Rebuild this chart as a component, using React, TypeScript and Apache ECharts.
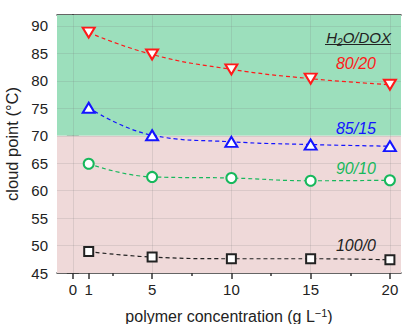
import React, { useEffect, useRef } from "react";
import * as echarts from "echarts";

const concentrations = [1, 5, 10, 15, 20];
const s8020 = [88.8, 84.8, 82.1, 80.4, 79.3];
const s8515 = [75.1, 70.1, 68.9, 68.4, 68.1];
const s9010 = [64.9, 62.5, 62.3, 61.8, 61.9];
const s1000 = [48.9, 47.9, 47.6, 47.6, 47.4];

const xMajorTicks = [0, 1, 5, 10, 15, 20];
const xTopTicks = [0, 5, 10, 15, 20];
const xMinorTicks = [2.5, 7.5, 12.5, 17.5];
const yMajorTicks = [45, 50, 55, 60, 65, 70, 75, 80, 85, 90];
const yMinorTicks = [47.5, 52.5, 57.5, 62.5, 67.5, 72.5, 77.5, 82.5, 87.5];
const X_MIN = -1;
const X_MAX = 20.7;
const Y_MIN = 45;
const Y_MAX = 92;
const BOUNDARY = 70;

const FONT = "Liberation Sans, Arial, sans-serif";
const AX = "#333333";

function mkSeries(name: string, vals: number[], color: string, symbol: string, size: any, rotate = 0) {
  return {
    name,
    type: "line",
    z: 5,
    data: concentrations.map((c, i) => [c, vals[i]]),
    smooth: 0.45,
    symbol,
    symbolSize: size,
    symbolRotate: rotate,
    showSymbol: true,
    itemStyle: { color: "#ffffff", borderColor: color, borderWidth: 2 },
    lineStyle: { color, width: 1.2, type: [4, 3] },
  };
}

export default function App() {
  const ref = useRef<HTMLDivElement>(null);
  useEffect(() => {
    document.body.style.margin = "0";
    document.body.style.overflow = "hidden";
    const chart = echarts.init(ref.current!, null, { renderer: "svg" });
    const tickAxisBase = {
      type: "value",
      min: X_MIN,
      max: X_MAX,
      splitLine: { show: false },
    };
    const yBase = {
      type: "value",
      min: Y_MIN,
      max: Y_MAX,
      splitLine: { show: false },
    };
    const label = (text: string, y: number, fill: string) => ({
      type: "text",
      z: 100,
      x: 376,
      y,
      style: { text, align: "right", verticalAlign: "middle", fontSize: 16, fontStyle: "italic", fill, fontFamily: FONT },
    });
    chart.setOption({
      animation: false,
      grid: { left: 57, right: 2, top: 15, bottom: 51, containLabel: false, outerBoundsMode: "none" },
      xAxis: [
        {
          ...tickAxisBase,
          position: "bottom",
          axisLine: { show: true, lineStyle: { color: AX, width: 1.5 } },
          axisTick: { show: true, customValues: xMajorTicks, length: 6, inside: false, lineStyle: { color: AX, width: 1.5 } },
          axisLabel: { customValues: xMajorTicks, fontSize: 15, color: "#222", margin: 9, fontFamily: FONT },
          name: "polymer concentration (g L{sup|−1})",
          nameLocation: "middle",
          nameGap: 34,
          nameTextStyle: {
            fontSize: 16,
            color: "#222",
            fontFamily: FONT,
            rich: { sup: { fontSize: 11, verticalAlign: "top", padding: [0, 0, 8, 0], color: "#222", fontFamily: FONT } },
          },
        },
        {
          ...tickAxisBase,
          position: "bottom",
          axisLine: { show: false },
          axisTick: { show: true, customValues: xMinorTicks, length: 3, inside: false, lineStyle: { color: AX, width: 1.5 } },
          axisLabel: { show: false },
        },
        {
          ...tickAxisBase,
          position: "top",
          axisLine: { show: true, lineStyle: { color: AX, width: 1.5 } },
          axisTick: { show: true, customValues: xTopTicks, length: 6, inside: true, lineStyle: { color: AX, width: 1.5 } },
          axisLabel: { show: false },
        },
        {
          ...tickAxisBase,
          position: "top",
          axisLine: { show: false },
          axisTick: { show: true, customValues: xMinorTicks, length: 3, inside: true, lineStyle: { color: AX, width: 1.5 } },
          axisLabel: { show: false },
        },
      ],
      yAxis: [
        {
          ...yBase,
          position: "left",
          axisLine: { show: true, lineStyle: { color: AX, width: 1.5 } },
          axisTick: { show: true, customValues: yMajorTicks, length: 6, inside: false, lineStyle: { color: AX, width: 1.5 } },
          axisLabel: { customValues: yMajorTicks, fontSize: 15, color: "#222", margin: 9, fontFamily: FONT },
          name: "cloud point (°C)",
          nameLocation: "middle",
          nameGap: 24,
          nameTextStyle: { fontSize: 16.5, color: "#222", fontFamily: FONT },
        },
        {
          ...yBase,
          position: "left",
          axisLine: { show: false },
          axisTick: { show: true, customValues: yMinorTicks, length: 3, inside: false, lineStyle: { color: AX, width: 1.5 } },
          axisLabel: { show: false },
        },
        {
          ...yBase,
          position: "right",
          axisLine: { show: true, lineStyle: { color: AX, width: 1.5 } },
          axisTick: { show: true, customValues: yMajorTicks, length: 6, inside: false, lineStyle: { color: AX, width: 1.5 } },
          axisLabel: { show: false },
        },
      ],
      series: [
        {
          type: "line",
          z: 1,
          data: [],
          silent: true,
          markArea: {
            silent: true,
            data: [
              [{ yAxis: BOUNDARY, itemStyle: { color: "#9cdfbc" } }, { yAxis: Y_MAX }],
              [{ yAxis: Y_MIN, itemStyle: { color: "#efd9d9" } }, { yAxis: BOUNDARY }],
            ],
          },
          markLine: {
            silent: true,
            symbol: "none",
            label: { show: false },
            lineStyle: { color: "rgba(120,120,120,0.18)", width: 1, type: "solid" },
            data: [
              ...xTopTicks.map((v) => ({ xAxis: v })),
              ...yMajorTicks.filter((v) => v > Y_MIN).map((v) => ({ yAxis: v })),
            ],
          },
        },
        mkSeries("80/20", s8020, "#ff1a1a", "triangle", [12, 10], 180),
        mkSeries("85/15", s8515, "#1414ff", "triangle", [12, 10], 0),
        mkSeries("90/10", s9010, "#17b85c", "circle", 10),
        mkSeries("100/0", s1000, "#222222", "rect", 9),
      ],
      graphic: [
        {
          type: "text",
          z: 100,
          x: 391,
          y: 37,
          style: {
            text: "{a|H}{s|2}{a|O/DOX}",
            align: "right",
            verticalAlign: "middle",
            rich: {
              a: { fontSize: 15, fontStyle: "italic", fill: "#222", fontFamily: FONT },
              s: { fontSize: 10, fontStyle: "italic", fill: "#222", fontFamily: FONT, padding: [10, 0, 0, 0] },
            },
          },
        },
        { type: "line", z: 100, shape: { x1: 325, y1: 44.5, x2: 391, y2: 44.5 }, style: { stroke: "#222", lineWidth: 1 } },
        label("80/20", 63, "#ff1a1a"),
        label("85/15", 128, "#1414ff"),
        label("90/10", 168, "#17b85c"),
        label("100/0", 245, "#222"),
      ],
    });
    return () => chart.dispose();
  }, []);
  return <div ref={ref} style={{ width: 403, height: 324 }} />;
}
